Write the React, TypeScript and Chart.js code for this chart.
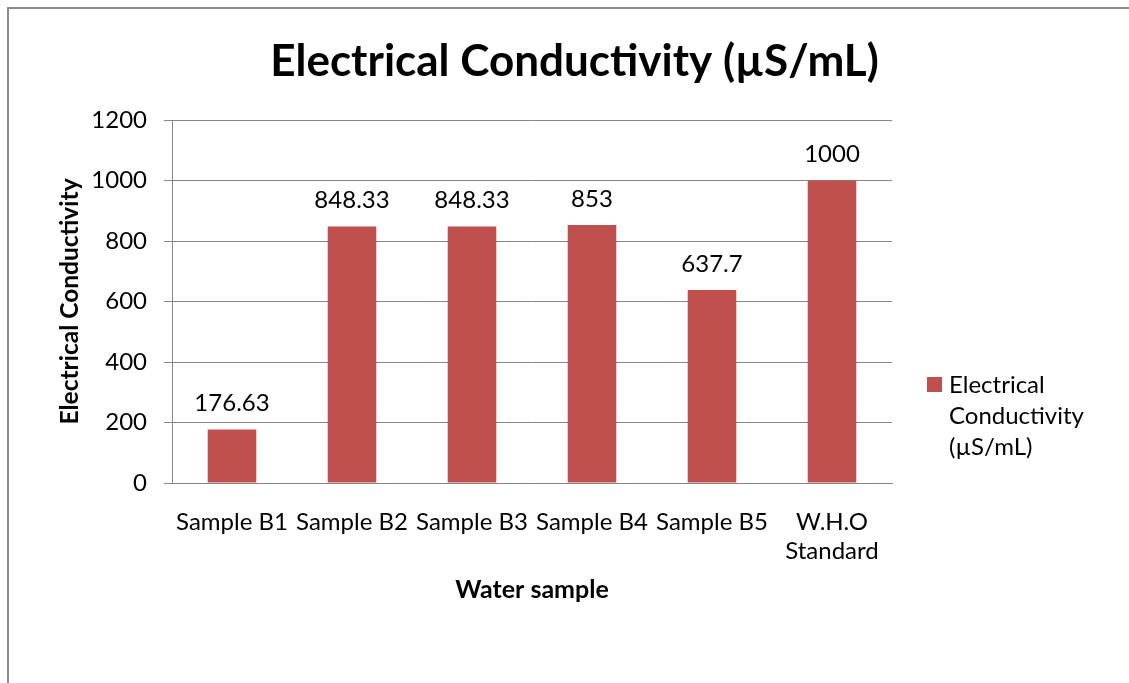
import React, { useEffect, useRef } from "react";
import { Chart, registerables } from "chart.js";

Chart.register(...registerables);

// ---- data ----
const CATEGORIES: (string | string[])[] = [
  "Sample B1",
  "Sample B2",
  "Sample B3",
  "Sample B4",
  "Sample B5",
  ["W.H.O", "Standard"],
];
const VALUES = [176.63, 848.33, 848.33, 853, 637.7, 1000];
const VALUE_LABELS = ["176.63", "848.33", "848.33", "853", "637.7", "1000"];
const SERIES_NAME = "Electrical Conductivity (µS/mL)";
const LEGEND_LINES = ["Electrical", "Conductivity", "(µS/mL)"];
const Y_TICKS = [0, 200, 400, 600, 800, 1000, 1200];
const CHART_TITLE = "Electrical Conductivity (µS/mL)";
const Y_TITLE = "Electrical Conductivity";
const X_TITLE = "Water sample";

// ---- style ----
const BAR_COLOR = "#C0504D";
const GRID_COLOR = "#868686";
const FONT = "Lato";
const TEXT_SIZE = 24;

const titlePlugin = {
  id: "centeredTitle",
  afterDraw(chart: any) {
    const ctx = chart.ctx;
    ctx.save();
    ctx.font = `bold 44px ${FONT}`;
    ctx.fillStyle = "#000";
    ctx.textAlign = "center";
    ctx.textBaseline = "middle";
    ctx.fillText(CHART_TITLE, chart.width / 2 + 10, 62);
    ctx.restore();
  },
};

const valueLabelPlugin = {
  id: "valueLabels",
  afterDatasetsDraw(chart: any) {
    const ctx = chart.ctx;
    const meta = chart.getDatasetMeta(0);
    ctx.save();
    ctx.font = `${TEXT_SIZE}px ${FONT}`;
    ctx.fillStyle = "#000";
    ctx.textAlign = "center";
    ctx.textBaseline = "middle";
    meta.data.forEach((bar: any, i: number) => {
      ctx.fillText(VALUE_LABELS[i], bar.x, bar.y - 26);
    });
    ctx.restore();
  },
};

const sideLegendPlugin = {
  id: "sideLegend",
  afterDraw(chart: any) {
    const ctx = chart.ctx;
    const area = chart.chartArea;
    const boxX = area.right + 35;
    const boxY = area.top + 257;
    const box = 15;
    ctx.save();
    ctx.fillStyle = BAR_COLOR;
    ctx.fillRect(boxX, boxY, box, box);
    ctx.font = `${TEXT_SIZE}px ${FONT}`;
    ctx.fillStyle = "#000";
    ctx.textAlign = "left";
    ctx.textBaseline = "middle";
    LEGEND_LINES.forEach((line, i) => {
      ctx.fillText(line, boxX + 22, boxY + 8 + i * 31);
    });
    ctx.restore();
  },
};

export default function App() {
  const canvasRef = useRef<HTMLCanvasElement | null>(null);

  useEffect(() => {
    const canvas = canvasRef.current;
    if (!canvas) return;
    Chart.defaults.font.family = FONT;
    const chart = new Chart(canvas, {
      type: "bar",
      data: {
        labels: CATEGORIES as any,
        datasets: [
          {
            label: SERIES_NAME,
            data: VALUES,
            backgroundColor: BAR_COLOR,
            borderWidth: 0,
            categoryPercentage: 1,
            barPercentage: 0.405,
          },
        ],
      },
      options: {
        responsive: false,
        animation: false,
        devicePixelRatio: 1,
        layout: { padding: { top: 120, left: 0, right: 237, bottom: 70 } },
        plugins: {
          legend: { display: false },
          tooltip: { enabled: false },
          title: { display: false },
        },
        scales: {
          x: {
            grid: { display: false, drawTicks: false },
            border: { display: true, color: GRID_COLOR, width: 1 },
            ticks: {
              color: "#000",
              font: { family: FONT, size: TEXT_SIZE },
              padding: 25,
              maxRotation: 0,
              autoSkip: false,
            },
            title: {
              display: true,
              text: X_TITLE,
              color: "#000",
              font: { family: FONT, size: 25, weight: "bold" },
              padding: { top: 0, bottom: 8 },
            },
            afterFit(scale: any) {
              scale.height = 130;
            },
          },
          y: {
            min: 0,
            max: 1200,
            afterBuildTicks(scale: any) {
              scale.ticks = Y_TICKS.map((v) => ({ value: v }));
            },
            grid: {
              color: GRID_COLOR,
              lineWidth: 1,
              drawTicks: true,
              tickLength: 8,
              tickColor: GRID_COLOR,
            },
            border: { display: true, color: GRID_COLOR, width: 1 },
            ticks: {
              color: "#000",
              font: { family: FONT, size: TEXT_SIZE },
              padding: 17,
              callback: (v: any) => String(v),
            },
            title: {
              display: true,
              text: Y_TITLE,
              color: "#000",
              font: { family: FONT, size: 24.5, weight: "bold" },
              padding: { top: 55, bottom: 0 },
            },
            afterFit(scale: any) {
              scale.width = 172;
            },
          },
        },
      },
      plugins: [titlePlugin, valueLabelPlugin, sideLegendPlugin],
    });
    return () => chart.destroy();
  }, []);

  return (
    <div
      style={{
        position: "fixed",
        left: 0,
        top: 0,
        width: 1129,
        height: 683,
        overflow: "hidden",
        background: "#fff",
      }}
    >
      <div
        style={{
          position: "absolute",
          left: 7,
          top: 7,
          width: 3000,
          height: 3000,
          borderTop: "2px solid #8a8a8a",
          borderLeft: "2px solid #8a8a8a",
          boxSizing: "border-box",
        }}
      />
      <canvas
        ref={canvasRef}
        width={1129}
        height={683}
        style={{ position: "absolute", left: 0, top: 0, width: 1129, height: 683 }}
      />
    </div>
  );
}
